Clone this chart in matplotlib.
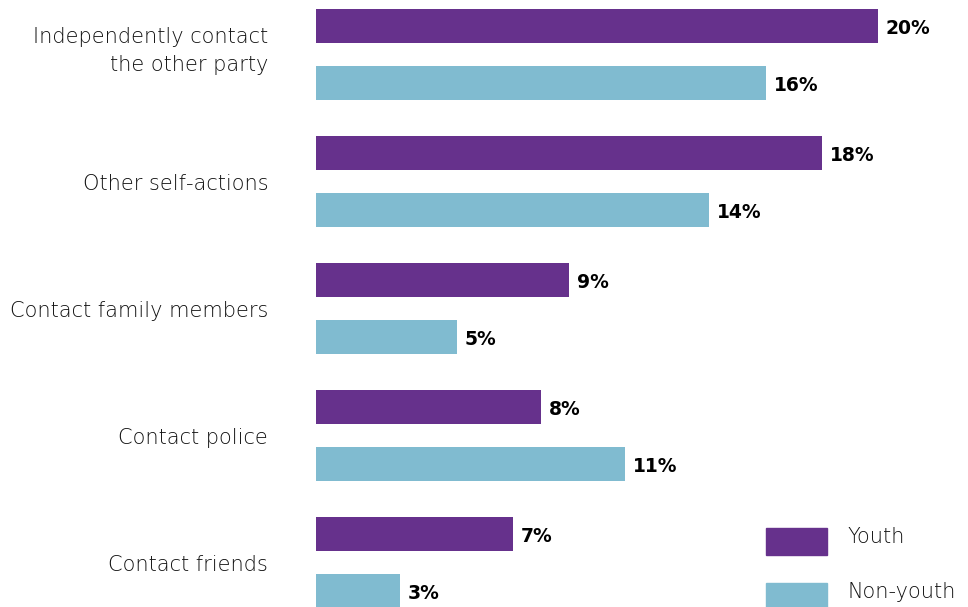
import numpy as np
import matplotlib.pyplot as plt
from matplotlib.patches import Rectangle

categories = ["Independently contact\nthe other party", "Other self-actions",
              "Contact family members", "Contact police", "Contact friends"]
youth = [20, 18, 9, 8, 7]
non_youth = [16, 14, 5, 11, 3]
series_names = ["Youth", "Non-youth"]

purple = "#66318c"
blue = "#80bbd0"
font = "DejaVu Sans"

W, H = 968, 607
fig = plt.figure(figsize=(W / 100, H / 100), dpi=100)
# axes from x=316px to right edge, full height
ax = fig.add_axes([316 / W, 0, 1 - 316 / W, 1])

gap = 57 / 127
bar_h = 34 / 127
idx = np.arange(len(categories))
ax.barh(idx, youth, height=bar_h, color=purple)
ax.barh(idx + gap, non_youth, height=bar_h, color=blue)

ax.set_xlim(0, (W - 316) / 28.1)
ax.set_ylim((H - 26) / 127, -26 / 127)
ax.axis("off")

for i, (a, b) in enumerate(zip(youth, non_youth)):
    ax.text(a + 0.28, i + 0.02, f"{a}%", va="center", ha="left", fontsize=13.5,
            fontweight="bold", family=font)
    ax.text(b + 0.28, i + gap + 0.02, f"{b}%", va="center", ha="left", fontsize=13.5,
            fontweight="bold", family=font)
    shift = -0.03 if "\n" in categories[i] else 0.018
    ax.text(-1.7, i + gap / 2 + shift, categories[i], va="center", ha="right",
            fontsize=15, family=font, fontweight=200, color="#111111",
            linespacing=1.5)

# legend drawn manually
for j, (name, col) in enumerate(zip(series_names, [purple, blue])):
    top = 528 + j * 55
    fig.add_artist(Rectangle((766 / W, 1 - (top + 27) / H), 61 / W, 27 / H,
                             transform=fig.transFigure, color=col))
    fig.text(848 / W, 1 - (top + 9) / H, name, va="center", ha="left",
             fontsize=15, family=font, fontweight=200, color="#111111")

fig.savefig("out.png", dpi=100)
